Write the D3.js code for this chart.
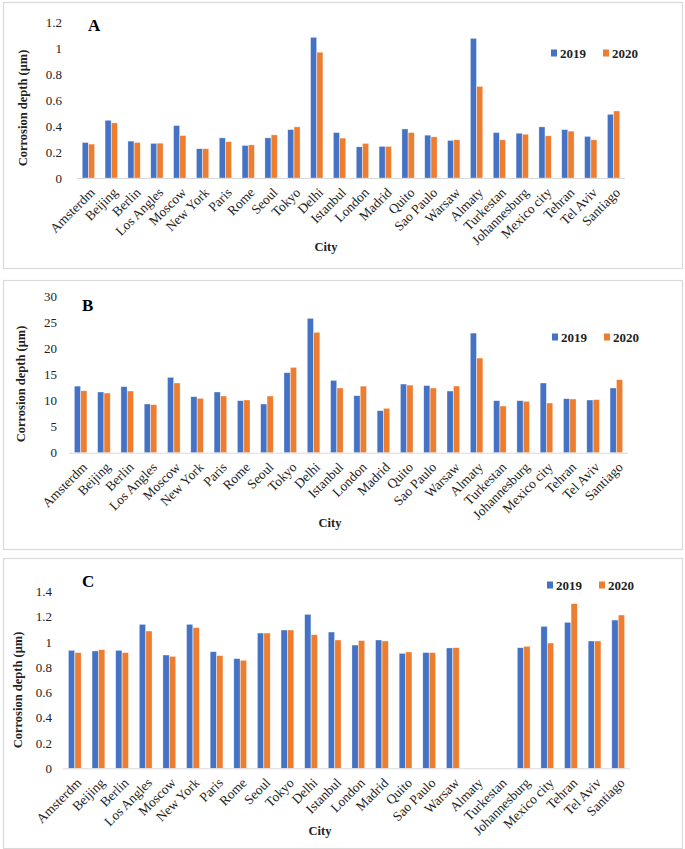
<!DOCTYPE html>
<html>
<head>
<meta charset="utf-8">
<script src="https://cdn.jsdelivr.net/npm/d3@7"></script>
<style>
  body { margin: 0; background: #fff; }
  svg { display: block; font-family: "Liberation Serif", "Times New Roman", serif; }
</style>
</head>
<body>
<div id="chart"></div>
<script>
const cities = ["Amsterdm", "Beijing", "Berlin", "Los Angles", "Moscow", "New York", "Paris", "Rome",
  "Seoul", "Tokyo", "Delhi", "Istanbul", "London", "Madrid", "Quito", "Sao Paulo", "Warsaw",
  "Almaty", "Turkestan", "Johannesburg", "Mexico city", "Tehran", "Tel Aviv", "Santiago"];
const years = ["2019", "2020"];

const a2019 = [0.274, 0.446, 0.285, 0.267, 0.405, 0.226, 0.31, 0.251, 0.31, 0.374, 1.087, 0.351,
  0.241, 0.244, 0.379, 0.331, 0.29, 1.079, 0.351, 0.346, 0.395, 0.374, 0.321, 0.492];
const a2020 = [0.262, 0.426, 0.274, 0.269, 0.328, 0.226, 0.28, 0.256, 0.333, 0.395, 0.972, 0.308,
  0.267, 0.244, 0.351, 0.318, 0.295, 0.708, 0.295, 0.338, 0.326, 0.362, 0.295, 0.518];

const b2019 = [12.8, 11.67, 12.7, 9.36, 14.49, 10.77, 11.67, 10.0, 9.36, 15.38, 25.83, 13.9,
  10.96, 8.08, 13.2, 12.9, 11.86, 23.0, 10.0, 10.0, 13.4, 10.38, 10.13, 12.44];
const b2020 = [11.9, 11.47, 11.86, 9.23, 13.4, 10.45, 10.9, 10.13, 10.9, 16.4, 23.14, 12.44,
  12.8, 8.53, 13.0, 12.44, 12.82, 18.2, 8.97, 9.87, 9.55, 10.32, 10.2, 14.04];

const c2019 = [0.935, 0.93, 0.935, 1.141, 0.898, 1.141, 0.924, 0.869, 1.072, 1.096, 1.22, 1.08,
  0.977, 1.017, 0.911, 0.917, 0.954, null, null, 0.956, 1.125, 1.157, 1.009, 1.175];
const c2020 = [0.917, 0.94, 0.917, 1.088, 0.887, 1.115, 0.893, 0.856, 1.072, 1.096, 1.059, 1.017,
  1.012, 1.009, 0.922, 0.917, 0.956, null, null, 0.967, 0.993, 1.305, 1.009, 1.215];

const aTicks = [0, 0.2, 0.4, 0.6, 0.8, 1, 1.2];
const bTicks = [0, 5, 10, 15, 20, 25, 30];
const cTicks = [0, 0.2, 0.4, 0.6, 0.8, 1, 1.2, 1.4];

const colors = { "2019": "#4472C4", "2020": "#ED7D31" };

const svg = d3.select("#chart").append("svg")
  .attr("width", 685)
  .attr("height", 849);

function drawPanel(p) {
  const g = svg.append("g");

  g.append("rect")
    .attr("x", p.box[0] + 0.5).attr("y", p.box[1] + 0.5)
    .attr("width", p.box[2] - p.box[0]).attr("height", p.box[3] - p.box[1])
    .attr("fill", "#fff").attr("stroke", "#d9d9d9").attr("stroke-width", 1.2);

  const x0 = d3.scaleBand().domain(cities).range([p.left, p.right])
    .paddingInner(0.46).paddingOuter(0.23);
  const x1 = d3.scaleBand().domain(years).range([0, x0.bandwidth()]).paddingInner(0.04);
  const y = d3.scaleLinear().domain([0, p.ticks[p.ticks.length - 1]]).range([p.base, p.top]);

  const rows = cities.map((c, i) => ({ city: c, vals: [p.s2019[i], p.s2020[i]] }));

  g.selectAll(".grp").data(rows).enter().append("g")
    .attr("transform", d => `translate(${x0(d.city)},0)`)
    .selectAll("rect")
    .data(d => years.map((yr, j) => ({ yr, v: d.vals[j] })).filter(e => e.v != null))
    .enter().append("rect")
    .attr("x", d => x1(d.yr))
    .attr("y", d => y(d.v))
    .attr("width", x1.bandwidth())
    .attr("height", d => y(0) - y(d.v))
    .attr("fill", d => colors[d.yr])
    .attr("stroke", "#fff").attr("stroke-opacity", 0.55).attr("stroke-width", 0.6);

  g.append("line")
    .attr("x1", p.left).attr("x2", p.right)
    .attr("y1", p.base + 0.5).attr("y2", p.base + 0.5)
    .attr("stroke", "#d9d9d9").attr("stroke-width", 1);

  // y tick labels
  g.selectAll(".yt").data(p.ticks).enter().append("text")
    .attr("x", p.tickX).attr("y", d => y(d))
    .attr("dy", "0.35em")
    .attr("text-anchor", "end")
    .attr("font-size", 13).attr("fill", "#222")
    .text(d => d);

  // x labels
  g.selectAll(".xt").data(cities).enter().append("text")
    .attr("transform", d => `translate(${x0(d) + x0.bandwidth() / 2 + 4},${p.base + 12}) rotate(-45)`)
    .attr("text-anchor", "end")
    .attr("dy", "0.35em")
    .attr("font-size", 13.5).attr("fill", "#222")
    .text(d => d);

  g.append("text")
    .attr("transform", `translate(${p.ytitleX},${p.ytitleY}) rotate(-90)`)
    .attr("text-anchor", "middle").attr("dy", "0.35em")
    .attr("font-size", 12.5).attr("font-weight", "bold").attr("fill", "#222")
    .text("Corrosion depth (μm)");

  g.append("text")
    .attr("x", p.cityX).attr("y", p.cityY)
    .attr("text-anchor", "middle")
    .attr("font-size", 12.5).attr("font-weight", "bold").attr("fill", "#222")
    .text("City");

  g.append("text")
    .attr("x", p.labelX).attr("y", p.labelY)
    .attr("font-size", 17).attr("font-weight", "bold").attr("fill", "#000")
    .text(p.label);

  // legend
  const leg = g.append("g").attr("transform", `translate(${p.legX},${p.legY})`);
  years.forEach((yr, i) => {
    const ox = i * 52;
    leg.append("rect").attr("x", ox).attr("y", -3.5).attr("width", 6).attr("height", 7)
      .attr("fill", colors[yr]);
    leg.append("text").attr("x", ox + 9).attr("y", 0).attr("dy", "0.35em")
      .attr("font-size", 13).attr("font-weight", "bold").attr("fill", "#222")
      .text(yr);
  });
}

drawPanel({ label: "A", box: [3, 2, 682, 268], left: 77, right: 625, base: 178, top: 22.7,
  ticks: aTicks, s2019: a2019, s2020: a2020, tickX: 62, ytitleX: 23, ytitleY: 108,
  cityX: 326, cityY: 251, labelX: 88, labelY: 31, legX: 551, legY: 53 });

drawPanel({ label: "B", box: [3, 280, 682, 549], left: 69, right: 628, base: 452.7, top: 296.7,
  ticks: bTicks, s2019: b2019, s2020: b2020, tickX: 57, ytitleX: 21, ytitleY: 384,
  cityX: 330, cityY: 527, labelX: 82, labelY: 311, legX: 552, legY: 337 });

drawPanel({ label: "C", box: [3, 558, 682, 848], left: 63, right: 630, base: 768.3, top: 591.7,
  ticks: cTicks, s2019: c2019, s2020: c2020, tickX: 52, ytitleX: 17.5, ytitleY: 690,
  cityX: 320, cityY: 835, labelX: 82, labelY: 587, legX: 547, legY: 585 });
</script>
</body>
</html>
